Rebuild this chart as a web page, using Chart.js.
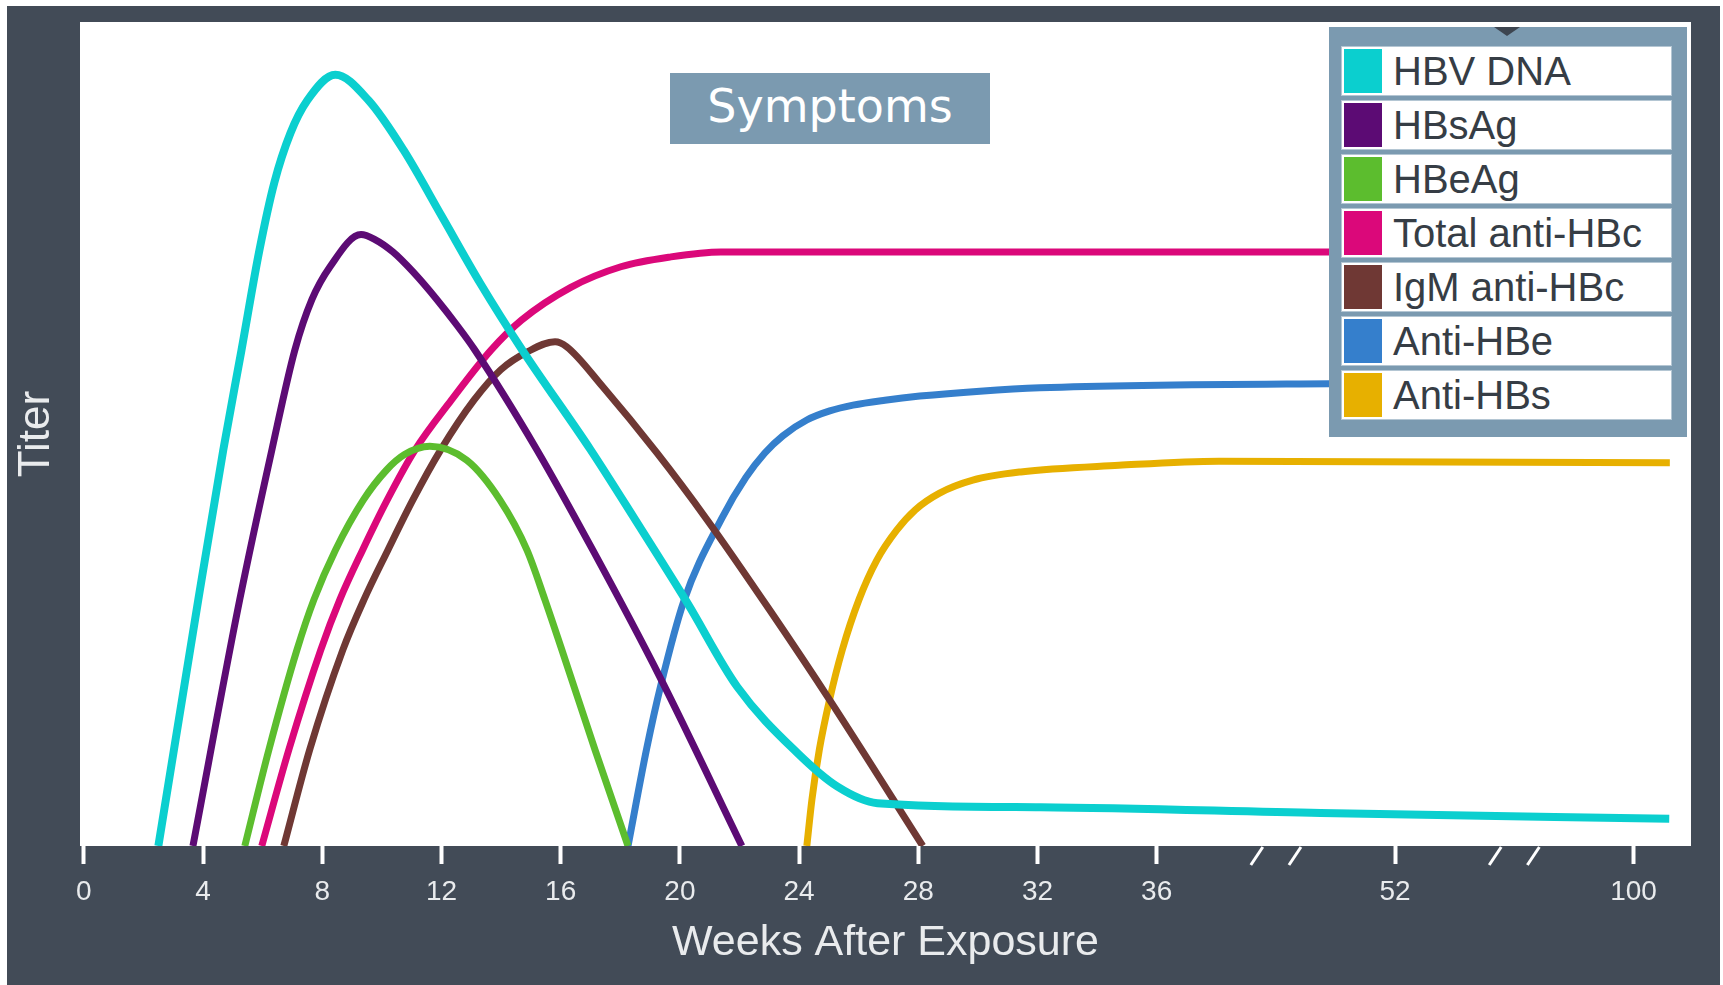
<!DOCTYPE html>
<html>
<head>
<meta charset="utf-8">
<script src="https://cdn.jsdelivr.net/npm/chart.js@4.4.1/dist/chart.umd.min.js"></script>
<style>
  html, body { margin: 0; padding: 0; background: #ffffff; overflow: hidden; }
  #wrap { position: relative; width: 1723px; height: 985px; }
  #symptoms {
    position: absolute; left: 670px; top: 73px; width: 320px; height: 71px;
    background: #7b9ab0; color: #ffffff; text-align: center;
    font: 46px 'DejaVu Sans', sans-serif; line-height: 67px;
  }
  #legend {
    position: absolute; left: 1329px; top: 27px; width: 358px; height: 410px;
    background: #7b9ab0; box-sizing: border-box; padding: 19px 0 0 12px;
  }
  #legend::before {
    content: ''; position: absolute; left: 165px; top: 0;
    border-left: 13px solid transparent; border-right: 13px solid transparent;
    border-top: 9px solid #3d4550;
  }
  .row { position: relative; width: 331px; height: 50px; margin-bottom: 4px; background: #ffffff; box-shadow: inset 0 0 0 1px #b4c6d3; }
  .sw { position: absolute; left: 3px; top: 3px; width: 38px; height: 44px; }
  .lbl {
    position: absolute; left: 52px; top: 0; white-space: nowrap; color: #363d45;
    font: 40px 'Liberation Sans', Arial, sans-serif; line-height: 50px;
  }
</style>
</head>
<body>
<div id="wrap">
  <canvas id="serology" width="1723" height="985"></canvas>
  <div id="symptoms">Symptoms</div>
  <div id="legend"></div>
</div>
<script>
// x axis is broken after week 36: position 44 shows week 52, position 52 shows week 100
const tickPositions = [0, 4, 8, 12, 16, 20, 24, 28, 32, 36, 44, 52];
const tickLabels = ['0', '4', '8', '12', '16', '20', '24', '28', '32', '36', '52', '100'];
const breakPositions = [40, 48];

// --- series (x = axis position, y = relative titer 0-100) ---
const hbvDnaWeeks = [2.5, 3.84, 4.68, 5.29, 5.89, 6.39, 6.93, 7.5, 8.44, 9.55, 10.72, 12.03, 13.3, 14.71, 17.0, 18.5, 20.25, 21.93, 23.94, 25.29, 26.63, 32.1, 41.5, 53.2];
const hbvDnaTiter = [0, 29.9, 48.1, 60.2, 72.3, 80.5, 86.5, 90.5, 93.6, 90.5, 84.5, 76.3, 68.3, 60.2, 48.1, 39.6, 29.5, 19.3, 11.3, 7.2, 5.2, 4.7, 4.0, 3.3];

const hbsAgWeeks = [3.66, 5.23, 6.31, 7.08, 7.65, 8.26, 9.3, 9.77, 10.37, 11.04, 11.85, 12.52, 13.12, 15.2, 17.08, 19.33, 22.08];
const hbsAgTiter = [0, 29.9, 48.1, 60.2, 66.3, 70.3, 74.2, 73.6, 72.1, 69.7, 66.3, 63.2, 60.2, 48.1, 35.9, 20.5, 0];

const hbeAgWeeks = [5.4, 6.21, 7.15, 7.72, 8.44, 9.38, 10.15, 10.76, 11.61, 12.85, 13.96, 14.87, 15.47, 16.04, 17.15, 18.26];
const hbeAgTiter = [0, 11.7, 23.8, 29.9, 35.9, 42.0, 45.6, 47.5, 48.5, 46.8, 42.0, 35.9, 29.9, 23.8, 11.7, 0];

const totalAntiHbcWeeks = [5.97, 6.88, 7.95, 8.59, 9.35, 10.18, 11.12, 12.33, 13.67, 14.68, 16.34, 18.02, 19.7, 21.38, 32.08, 41.8, 53.2];
const totalAntiHbcTiter = [0, 11.7, 23.8, 29.9, 35.9, 42.0, 48.1, 54.1, 60.2, 63.8, 67.8, 70.3, 71.5, 72.1, 72.1, 72.1, 72.1];

const igmAntiHbcWeeks = [6.71, 7.58, 8.69, 9.4, 10.2, 11.04, 11.98, 13.09, 13.99, 14.9, 15.81, 16.2, 17.42, 19.23, 20.91, 23.02, 25.03, 28.15];
const igmAntiHbcTiter = [0, 11.7, 23.8, 29.9, 35.9, 42.0, 48.1, 54.1, 57.8, 60.0, 61.2, 60.6, 55.7, 47.7, 39.6, 28.6, 17.7, 0];

const antiHbeWeeks = [18.26, 18.89, 19.36, 20.13, 21.41, 22.21, 22.85, 23.46, 24.26, 25.03, 25.81, 26.88, 28.05, 30.07, 32.08, 41.81, 53.22];
const antiHbeTiter = [0, 11.9, 19.5, 29.7, 39.8, 44.7, 47.7, 49.8, 51.7, 52.8, 53.5, 54.1, 54.6, 55.2, 55.6, 56.1, 56.2];

const antiHbsWeeks = [24.26, 24.43, 24.68, 25.02, 25.45, 26.01, 26.61, 27.27, 27.9, 28.7, 29.83, 31.44, 34.73, 38.09, 53.22];
const antiHbsTiter = [0, 5.6, 11.7, 17.7, 23.8, 29.9, 34.7, 38.3, 40.8, 42.8, 44.4, 45.4, 46.2, 46.7, 46.5];

const seriesNames = ['HBV DNA', 'HBsAg', 'HBeAg', 'Total anti-HBc', 'IgM anti-HBc', 'Anti-HBe', 'Anti-HBs'];
const seriesColors = ['#0bcfcf', '#5c0b74', '#5cbd2e', '#db087a', '#6f3834', '#357fcc', '#e7b000'];

function points(xs, ys) {
    return xs.map((x, i) => ({ x: x, y: ys[i] }));
}

const seriesData = [
    points(hbvDnaWeeks, hbvDnaTiter),
    points(hbsAgWeeks, hbsAgTiter),
    points(hbeAgWeeks, hbeAgTiter),
    points(totalAntiHbcWeeks, totalAntiHbcTiter),
    points(igmAntiHbcWeeks, igmAntiHbcTiter),
    points(antiHbeWeeks, antiHbeTiter),
    points(antiHbsWeeks, antiHbsTiter)
];

const textColor = '#e9ebed';
const panelColor = '#424b57';

// dark panel behind everything, white plot area
const panelPlugin = {
    id: 'panel',
    beforeDraw(chart) {
        const { ctx, chartArea: a } = chart;
        ctx.save();
        ctx.fillStyle = '#ffffff';
        ctx.fillRect(0, 0, chart.width, chart.height);
        ctx.fillStyle = panelColor;
        ctx.fillRect(7, 6, 1713, chart.height - 6);
        ctx.fillStyle = '#ffffff';
        ctx.fillRect(a.left, a.top, a.right - a.left, a.bottom - a.top);
        ctx.restore();
    }
};

// double slashes where the time axis is broken
const breakPlugin = {
    id: 'axisBreaks',
    afterDraw(chart) {
        const { ctx, chartArea: a } = chart;
        const x = chart.scales.x;
        ctx.save();
        ctx.strokeStyle = '#ffffff';
        ctx.lineWidth = 3;
        breakPositions.forEach(p => {
            [p - 0.64, p + 0.64].forEach(v => {
                const px = x.getPixelForValue(v);
                ctx.beginPath();
                ctx.moveTo(px - 6, a.bottom + 19);
                ctx.lineTo(px + 6, a.bottom + 1);
                ctx.stroke();
            });
        });
        ctx.restore();
    }
};

const chart = new Chart(document.getElementById('serology').getContext('2d'), {
    type: 'line',
    data: {
        datasets: seriesNames.map((name, i) => ({
            label: name,
            data: seriesData[i],
            borderColor: seriesColors[i],
            backgroundColor: seriesColors[i],
            borderWidth: i === 0 ? 8 : 7,
            pointRadius: 0,
            cubicInterpolationMode: 'monotone',
            fill: false,
            clip: 0
        }))
    },
    options: {
        responsive: false,
        animation: false,
        layout: { padding: { top: 22, right: 32, left: 0, bottom: 0 } },
        plugins: {
            legend: { display: false },
            tooltip: { enabled: false }
        },
        scales: {
            x: {
                type: 'linear',
                min: -0.13,
                max: 53.93,
                afterBuildTicks: axis => { axis.ticks = tickPositions.map(v => ({ value: v })); },
                afterFit: axis => { axis.height = 139; },
                grid: { drawOnChartArea: false, tickLength: 18, tickColor: '#ffffff', tickWidth: 4 },
                border: { display: false },
                ticks: {
                    autoSkip: false,
                    maxRotation: 0,
                    padding: 11,
                    color: textColor,
                    font: { family: "'Liberation Sans', Arial, sans-serif", size: 28 },
                    callback: value => tickLabels[tickPositions.indexOf(value)]
                },
                title: {
                    display: true,
                    text: 'Weeks After Exposure',
                    color: textColor,
                    font: { family: "'Liberation Sans', Arial, sans-serif", size: 43 },
                    padding: { top: 0, bottom: 16 }
                }
            },
            y: {
                min: 0,
                max: 100,
                afterFit: axis => { axis.width = 80; },
                grid: { display: false },
                border: { display: false },
                ticks: { display: false },
                title: {
                    display: true,
                    text: 'Titer',
                    color: textColor,
                    font: { family: "'Liberation Sans', Arial, sans-serif", size: 44 },
                    padding: { top: 10, bottom: 0 }
                }
            }
        }
    },
    plugins: [panelPlugin, breakPlugin]
});

// legend boxes built from the chart's datasets
const legendEl = document.getElementById('legend');
chart.data.datasets.forEach(ds => {
    const row = document.createElement('div');
    row.className = 'row';
    const sw = document.createElement('div');
    sw.className = 'sw';
    sw.style.background = ds.borderColor;
    const lbl = document.createElement('div');
    lbl.className = 'lbl';
    lbl.textContent = ds.label;
    row.appendChild(sw);
    row.appendChild(lbl);
    legendEl.appendChild(row);
});
</script>
</body>
</html>
